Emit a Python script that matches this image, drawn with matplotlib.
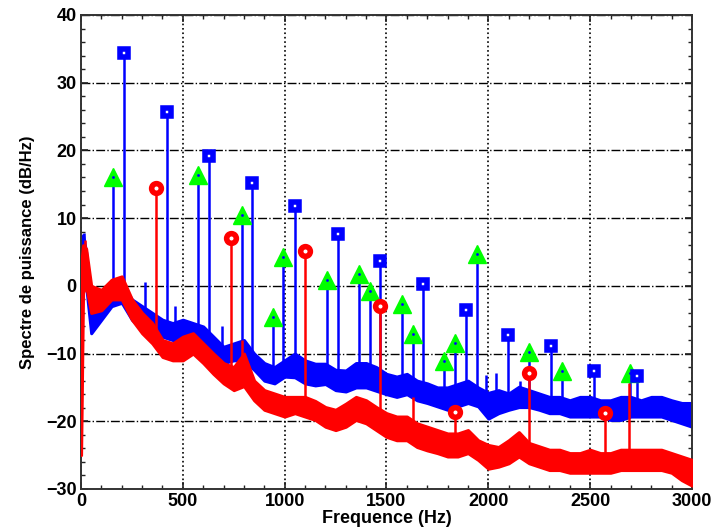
import numpy as np
import matplotlib
matplotlib.use('Agg')
import matplotlib.pyplot as plt
from matplotlib.ticker import MultipleLocator

# Bande de bruit (bords bas / haut, dB/Hz)
freq = [0, 10, 25, 50, 100, 150, 200, 250, 300, 350, 400, 450, 500, 550, 600,
        650, 700, 750, 800, 850, 900, 950, 1000, 1050, 1100, 1150, 1200, 1250,
        1300, 1350, 1400, 1450, 1500, 1550, 1600, 1650, 1700, 1750, 1800, 1850,
        1900, 1950, 2000, 2050, 2100, 2150, 2200, 2250, 2300, 2350, 2400, 2450,
        2500, 2550, 2600, 2650, 2700, 2750, 2800, 2850, 2900, 2950, 3000]

bleu_bas = [-2, 0, 0, -7, -5, -3, -2.5, -5, -6.5, -7, -7.5, -8, -8, -8, -9,
            -10.5, -11.4, -11, -11, -12.4, -14, -14.4, -13.4, -13.5, -14.4, -14.7, -14.5, -15.4,
            -15.6, -15, -15, -15.5, -16, -16.4, -16, -16.9, -17.3, -17.8, -18.3, -17.8,
            -17.3, -17.8, -19.6, -18.8, -18.3, -17.9, -17.9, -18.3, -18.8, -18.8, -19.3, -19.3,
            -19.3, -19.3, -19.8, -19.8, -19.3, -19.3, -19.3, -19.3, -19.8, -20.3, -20.8]
bleu_haut = [4, 7.5, 5, -2.5, -1.6, 0, 0.4, -2, -3, -4, -5, -5.5, -5, -5.5, -6,
             -7.5, -9, -8.5, -8, -10, -11.4, -12, -11, -10, -11, -11.5, -11.5, -12.4,
             -12.5, -11.4, -11.4, -12, -13, -13.4, -13, -14, -14.4, -15, -15, -14.5,
             -14, -15, -15.8, -15.4, -15.9, -14.9, -15.4, -15.9, -16.4, -16.4, -16.9, -16.4,
             -16.4, -16.9, -16.9, -16.4, -16.4, -16.9, -16.4, -16.4, -16.9, -17.3, -17.3]

rouge_bas = [-25, -1, 0, -4, -3.6, -2, -2, -5, -7, -8.5, -10.5, -11, -11, -10, -11.4,
             -13, -14.4, -15.4, -14.8, -16.9, -18.3, -18.8, -19.3, -18.8, -19.3, -19.8, -20.8, -21.3,
             -20.8, -19.8, -20.3, -21.3, -22.3, -22.8, -22.8, -23.8, -24.3, -24.7, -25.2, -25.2,
             -24.7, -25.7, -27, -26.7, -26.2, -25.2, -26.2, -26.7, -27.2, -27.2, -27.6, -27.6,
             -27.6, -27.6, -27.6, -27.2, -27.2, -27.2, -27.2, -27.2, -27.6, -28.7, -29.5]
rouge_haut = [3, 6, 5.5, 0, -0.6, 0.9, 1.4, -2, -4, -5.5, -8, -8.5, -7.5, -7, -8.5,
              -10, -11.4, -12, -10, -14, -15.4, -15.9, -16.4, -16.4, -16.4, -17, -17.9, -18.3,
              -17.4, -16.4, -16.9, -17.9, -18.8, -19.3, -19.3, -20.3, -20.8, -21.3, -21.8, -21.8,
              -21.3, -22.8, -23.5, -23.8, -22.8, -21.6, -23.2, -23.7, -24.2, -24.2, -24.7, -24.7,
              -24.2, -24.7, -24.7, -24.2, -24.2, -24.2, -24.2, -24.2, -24.7, -25.2, -25.7]

# Pics marqués
carres_f = [211, 421, 630, 841, 1051, 1263, 1468, 1681, 1888, 2098, 2307, 2520, 2728]
carres_db = [34.4, 25.7, 19.2, 15.2, 11.8, 7.6, 3.6, 0.3, -3.5, -7.2, -8.9, -12.6, -13.3]

triangles_f = [158, 576, 789, 943, 993, 1206, 1365, 1419, 1574, 1628, 1784, 1836, 1942,
               2201, 2360, 2695]
triangles_db = [16.1, 16.3, 10.5, -4.6, 4.2, 0.9, 1.7, -0.7, -2.7, -7.1, -11.1, -8.5, 4.7,
                -9.8, -12.6, -12.9]

cercles_f = [368, 735, 1100, 1468, 1836, 2201, 2572]
cercles_db = [14.5, 7.1, 5.2, -3.0, -18.7, -12.8, -18.8]

# Pics non marqués
pics_bleu_f = [15, 60, 314, 461, 690, 1990, 2040, 2155]
pics_bleu_db = [7.8, -1, 0.5, -3, -6, -13.2, -12.9, -14]
pics_rouge_f = [18, 790, 1630, 2690]
pics_rouge_db = [6.8, -8, -16.4, -14.3]

BLEU = '#0000ff'
ROUGE = '#ff0000'
VERT = '#00ff00'

plt.rcParams['font.family'] = ['Liberation Sans', 'DejaVu Sans']
plt.rcParams['font.weight'] = 'bold'

fig = plt.figure(figsize=(7.15, 5.31), dpi=100)
ax = fig.add_axes([0.1133, 0.0791, 0.8545, 0.8927])

# spectre bleu
ax.fill_between(freq, bleu_bas, bleu_haut, color=BLEU, lw=2.2, zorder=2)
f_b = carres_f + triangles_f + pics_bleu_f
db_b = carres_db + triangles_db + pics_bleu_db
ax.vlines(f_b, np.interp(f_b, freq, bleu_bas), db_b, color=BLEU, lw=1.8, zorder=2)

# spectre rouge
ax.fill_between(freq, rouge_bas, rouge_haut, color=ROUGE, lw=2.2, zorder=3)
f_r = cercles_f + pics_rouge_f
db_r = cercles_db + pics_rouge_db
ax.vlines(f_r, np.interp(f_r, freq, rouge_bas), db_r, color=ROUGE, lw=1.8, zorder=3)

# marqueurs
ax.plot(triangles_f, triangles_db, '^', ms=13, mfc=VERT, mec=VERT, zorder=5)
ax.plot(triangles_f, triangles_db, '.', ms=2, color=BLEU, zorder=6)
ax.plot(carres_f, carres_db, 's', ms=6, mfc='white', mec=BLEU, mew=4, zorder=5)
ax.plot(cercles_f, cercles_db, 'o', ms=7, mfc='white', mec=ROUGE, mew=4, zorder=5)

ax.set_xlim(0, 3000)
ax.set_ylim(-30, 40)
ax.xaxis.set_major_locator(MultipleLocator(500))
ax.xaxis.set_minor_locator(MultipleLocator(100))
ax.yaxis.set_major_locator(MultipleLocator(10))
ax.yaxis.set_minor_locator(MultipleLocator(2))
ax.tick_params(which='both', direction='in', top=True, right=True, colors='#222222',
               labelcolor='black')
ax.tick_params(which='major', length=5, width=1.2, labelsize=13, pad=3)
ax.tick_params(which='minor', length=3, width=1)

ax.xaxis.grid(True, which='major', linestyle=':', color='black', lw=1.2)
ax.yaxis.grid(True, which='major', linestyle='-.', color='black', lw=1)
ax.set_axisbelow(True)

for s in ax.spines.values():
    s.set_linewidth(1.4)
    s.set_color('#333333')

ax.set_xlabel('Frequence (Hz)', fontsize=13, fontweight='bold', labelpad=0)
ax.set_ylabel('Spectre de puissance (dB/Hz)', fontsize=12, fontweight='bold', labelpad=8)

fig.savefig('out.png', dpi=100)
